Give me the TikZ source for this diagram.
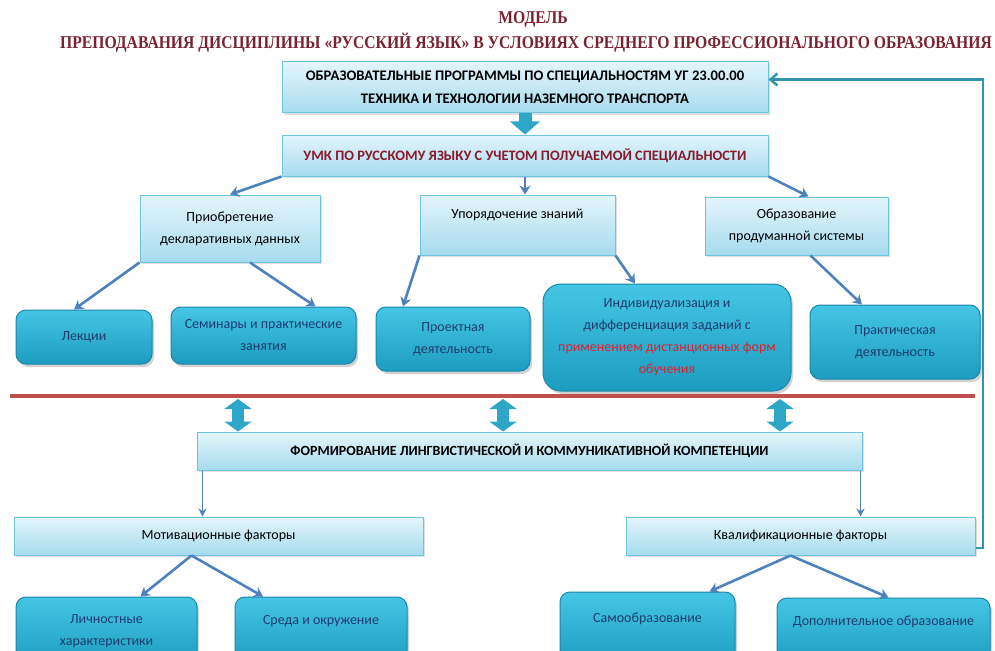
\documentclass[tikz,border=0pt]{standalone}
\usepackage{fontspec}
\setmainfont{Carlito}
\newfontfamily\titlefont[FakeStretch=0.87]{Liberation Serif}
\usetikzlibrary{arrows.meta,shadows}

\definecolor{titlered}{HTML}{7B2230}
\definecolor{umkred}{HTML}{8B1A2B}
\definecolor{hotred}{HTML}{E0202E}
\definecolor{lineblue}{HTML}{4F81BD}
\definecolor{lighttop}{HTML}{E4F5FB}
\definecolor{lightbot}{HTML}{A6DBEF}
\definecolor{lightrim}{HTML}{6CC4E0}
\definecolor{tealtop}{HTML}{45C6E6}
\definecolor{tealbot}{HTML}{1C9CC0}
\definecolor{tealrim}{HTML}{1A87A8}
\definecolor{tealtext}{HTML}{1F3C6E}
\definecolor{blockteal}{HTML}{2EA6C8}
\definecolor{backteal}{HTML}{3394B0}
\definecolor{redline}{HTML}{C0504D}

\begin{document}
\begin{tikzpicture}[x=1pt,y=-1pt,
  font=\fontsize{14}{22}\selectfont,
  lbox/.style={draw=lightrim, line width=1pt, top color=lighttop, bottom color=lightbot,
    drop shadow={opacity=0.25,shadow xshift=2pt,shadow yshift=-2pt},
    align=center, inner sep=0pt},
  tbox/.style={draw=tealrim, line width=1pt, rounded corners=10pt, top color=tealtop,
    bottom color=tealbot, text=tealtext,
    drop shadow={opacity=0.35,shadow xshift=2pt,shadow yshift=-3pt},
    align=center, inner sep=0pt},
  arr/.style={draw=lineblue, line width=2.6pt, -{Stealth[length=9pt,width=11pt]}},
  thinarr/.style={draw=lineblue, line width=1.6pt, -{Stealth[length=8pt,width=8pt]}},
  blockarr/.style={draw=blockteal, line width=13pt, -{Triangle[length=13pt,width=29pt]}},
  dblarr/.style={draw=blockteal, line width=12pt,
    {Triangle[length=10pt,width=27pt]}-{Triangle[length=10pt,width=27pt]}}]
\clip (0,0) rectangle (995,650);
\fill[white] (0,0) rectangle (995,650);

% title
\node[text=titlered, font=\titlefont\bfseries\fontsize{18}{20}\selectfont] (t1) at (533,19) {МОДЕЛЬ};
\node[text=titlered, font=\titlefont\bfseries\fontsize{18}{20}\selectfont] (t2) at (526,43)
  {ПРЕПОДАВАНИЯ ДИСЦИПЛИНЫ «РУССКИЙ ЯЗЫК» В УСЛОВИЯХ СРЕДНЕГО ПРОФЕССИОНАЛЬНОГО ОБРАЗОВАНИЯ};

% upper part
\node[lbox, minimum width=486, minimum height=51, font=\bfseries\fontsize{14.6}{23}\selectfont] (prog) at (525,87.5)
  {ОБРАЗОВАТЕЛЬНЫЕ ПРОГРАММЫ ПО СПЕЦИАЛЬНОСТЯМ УГ 23.00.00\\ТЕХНИКА И ТЕХНОЛОГИИ НАЗЕМНОГО ТРАНСПОРТА};
\node[lbox, minimum width=486, minimum height=41, text=umkred, font=\bfseries\fontsize{14.4}{22}\selectfont] (umk) at (525,155.5)
  {УМК ПО РУССКОМУ ЯЗЫКУ С УЧЕТОМ ПОЛУЧАЕМОЙ СПЕЦИАЛЬНОСТИ};

\node[lbox, minimum width=180, minimum height=67] (decl) at (230,228.5) {Приобретение\\декларативных данных};
\node[lbox, minimum width=195, minimum height=60] (order) at (517.5,225) {Упорядочение знаний\\\mbox{}};
\node[lbox, minimum width=183, minimum height=58] (sys) at (796.5,226) {Образование\\продуманной системы};

\node[tbox, minimum width=136, minimum height=54] (lect) at (84,337) {Лекции};
\node[tbox, minimum width=185, minimum height=57] (sem) at (263.5,335.5) {Семинары и практические\\занятия};
\node[tbox, minimum width=154, minimum height=64] (proj) at (453,339) {Проектная\\деятельность};
\node[tbox, rounded corners=18pt, minimum width=248, minimum height=107] (indiv) at (667,337.5)
  {Индивидуализация и\\дифференциация заданий с\\\textcolor{hotred}{применением дистанционных форм}\\\textcolor{hotred}{обучения}};
\node[tbox, minimum width=170, minimum height=74] (pract) at (895,342) {Практическая\\деятельность};

\draw[blockarr] (prog.south) -- (umk.north);
\draw[arr] (umk.south west) -- (decl.north);
\draw[arr] (umk.south) -- (umk.south |- order.north);
\draw[arr] (umk.south east) -- ([xshift=12]sys.north);
\draw[arr] (decl.south west) -- ([xshift=-10]lect.north);
\draw[arr] ([xshift=20]decl.south) -- ([xshift=52]sem.north);
\draw[arr] (order.south west) -- ([xshift=-50]proj.north);
\draw[arr] (order.south east) -- ([xshift=-32]indiv.north);
\draw[arr] ([xshift=14]sys.south) -- ([xshift=-33]pract.north);

% dividing line
\coordinate (redL) at (10,396);
\coordinate (redR) at (975,396);
\draw[redline, line width=4pt] (redL) -- (redR);

% lower part
\node[lbox, minimum width=665, minimum height=38, font=\bfseries\fontsize{14}{22}\selectfont] (comp) at (529.5,451)
  {ФОРМИРОВАНИЕ ЛИНГВИСТИЧЕСКОЙ И КОММУНИКАТИВНОЙ КОМПЕТЕНЦИИ};
\coordinate (d1) at (238,399);
\coordinate (d2) at (503,399);
\coordinate (d3) at (780,399);
\foreach \d in {d1,d2,d3}
  \draw[dblarr] (\d) -- (\d |- comp.north);

\node[lbox, minimum width=409, minimum height=38] (motiv) at (218.5,536) {Мотивационные факторы};
\node[lbox, minimum width=349, minimum height=38] (qual) at (800.5,536) {Квалификационные факторы};

\node[tbox, minimum width=181, minimum height=68] (pers) at (106.5,631) {Личностные\\характеристики};
\node[tbox, minimum width=172, minimum height=68] (env) at (321,631) {Среда и окружение\\\mbox{}};
\node[tbox, minimum width=175, minimum height=73] (self) at (647.5,628.5) {Самообразование\\\mbox{}};
\node[tbox, minimum width=213, minimum height=67] (add) at (883.5,631.5) {Дополнительное образование\\\mbox{}};

\draw[thinarr] ([xshift=6]comp.south west) -- ([xshift=6]comp.south west |- motiv.north);
\draw[thinarr] ([xshift=-2]comp.south east) -- ([xshift=-2]comp.south east |- qual.north);
\draw[arr] ([xshift=-27]motiv.south) -- ([xshift=34]pers.north);
\draw[arr] ([xshift=-27]motiv.south) -- ([xshift=-58]env.north);
\draw[arr] ([xshift=-10]qual.south) -- ([xshift=62]self.north);
\draw[arr] ([xshift=-10]qual.south) -- ([xshift=5]add.north);

% feedback
\coordinate (fb) at (983,300);
\draw[backteal, line width=2.5pt, -{Straight Barb[length=7pt,width=12pt]}]
  ([yshift=-12]qual.east) -| (fb) |- ([yshift=8]prog.east);
\end{tikzpicture}
\end{document}
